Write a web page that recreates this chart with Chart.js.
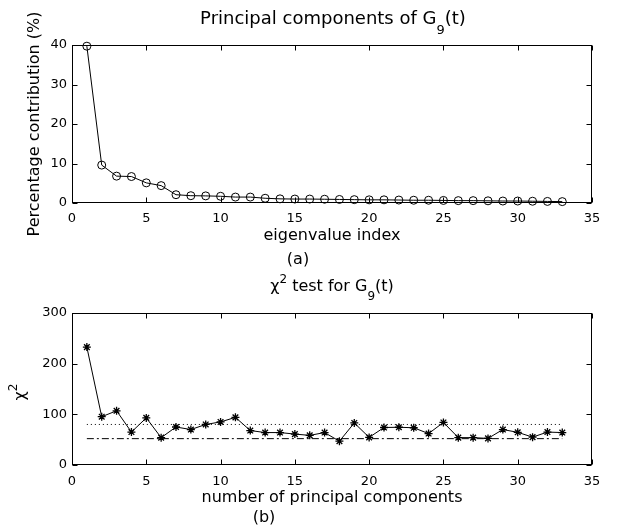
<!DOCTYPE html>
<html>
<head>
<meta charset="utf-8">
<script src="https://cdn.jsdelivr.net/npm/chart.js@4/dist/chart.umd.min.js"></script>
<style>
html,body{margin:0;padding:0;background:#fff;}
body{width:619px;height:531px;position:relative;overflow:hidden;font-family:"DejaVu Sans",sans-serif;color:#000;}
.wrap{position:absolute;left:0;width:619px;}
.t{position:absolute;white-space:nowrap;line-height:1;transform:translateX(-50%);}
.rot{position:absolute;white-space:nowrap;line-height:1;transform:translate(-50%,-50%) rotate(-90deg);}
.sub{position:relative;font-size:13px;top:10px;}
.sub2{position:relative;font-size:12px;top:9px;}
.sup{position:relative;font-size:12px;top:-8px;}
</style>
</head>
<body>
<div class="wrap" style="top:0;height:270px;"><canvas id="c1" width="619" height="270"></canvas></div>
<div class="wrap" style="top:270px;height:261px;"><canvas id="c2" width="619" height="261"></canvas></div>

<div class="t" style="left:333px;top:9px;font-size:18px;">Principal components of G<span class="sub">9</span>(t)</div>
<div class="rot" style="left:33.5px;top:124px;font-size:16px;">Percentage contribution (%)</div>
<div class="t" style="left:332px;top:226.5px;font-size:16px;">eigenvalue index</div>
<div class="t" style="left:298px;top:250.5px;font-size:16px;">(a)</div>

<div class="t" style="left:332px;top:277.5px;font-size:16px;">&#967;<span class="sup">2</span> test for G<span class="sub2">9</span>(t)</div>
<div class="rot" style="left:19.5px;top:392px;font-size:16px;">&#967;<span class="sup">2</span></div>
<div class="t" style="left:332px;top:488.5px;font-size:16px;">number of principal components</div>
<div class="t" style="left:264px;top:508.5px;font-size:16px;">(b)</div>

<script>
// ---- data ----
const eigenIndex = [1,2,3,4,5,6,7,8,9,10,11,12,13,14,15,16,17,18,19,20,21,22,23,24,25,26,27,28,29,30,31,32,33];
const pctContribution = [39.7,9.6,6.8,6.7,5.1,4.4,2.1,1.85,1.8,1.7,1.5,1.5,1.2,1.05,1.0,1.0,0.95,0.9,0.85,0.8,0.8,0.75,0.7,0.7,0.65,0.6,0.6,0.55,0.5,0.5,0.45,0.4,0.35];

const componentCount = [1,2,3,4,5,6,7,8,9,10,11,12,13,14,15,16,17,18,19,20,21,22,23,24,25,26,27,28,29,30,31,32,33];
const chiSquare = [232.7,95.3,107,65,93,54,75,70,80,85,94,68,64,64,61,58.5,64,47,83,54.5,74,74.5,73.5,62,84,54,54,52.5,70,64.5,55,65,64];

const thresholdRange = [1, 33];
const thresholdDotted = [80, 80];
const thresholdDashDot = [52, 52];

const xTicks = [0,5,10,15,20,25,30,35];
const yTicksTop = [0,10,20,30,40];
const yTicksBottom = [0,100,200,300];

// ---- helpers ----
const FONT = {family:'"DejaVu Sans", sans-serif', size:13};
const pts = (xs, ys) => xs.map((x,i)=>({x, y: ys[i]}));

const frame = {
  id:'frame',
  afterDatasetsDraw(chart){
    const {ctx, chartArea:a, scales:{x,y}} = chart;
    ctx.save();
    ctx.strokeStyle='#000'; ctx.lineWidth=1;
    const L=Math.round(a.left)+0.5, R=Math.round(a.right)-0.5, T=Math.round(a.top)+0.5, B=Math.round(a.bottom)-0.5;
    ctx.strokeRect(L,T,R-L,B-T);
    ctx.beginPath();
    x.ticks.forEach(t=>{const p=Math.round(x.getPixelForValue(t.value))+0.5; ctx.moveTo(p,B); ctx.lineTo(p,B-5); ctx.moveTo(p,T); ctx.lineTo(p,T+5);});
    y.ticks.forEach(t=>{const p=Math.round(y.getPixelForValue(t.value))+0.5; ctx.moveTo(L,p); ctx.lineTo(L+5,p); ctx.moveTo(R,p); ctx.lineTo(R-5,p);});
    ctx.stroke();
    ctx.restore();
  }
};

function makeScales(yMin, yMax, yTicks, xPad){
  return {
    x:{type:'linear', min:0, max:35,
       afterBuildTicks:s=>{s.ticks = xTicks.map(v=>({value:v}));},
       afterFit:s=>{s.height=25;},
       ticks:{font:FONT,color:'#000',padding:xPad,maxRotation:0,autoSkip:false},
       grid:{display:false,drawTicks:false}, border:{display:false}},
    y:{type:'linear', min:yMin, max:yMax,
       afterBuildTicks:s=>{s.ticks = yTicks.map(v=>({value:v}));},
       afterFit:s=>{s.width=72;},
       ticks:{font:FONT,color:'#000',padding:5},
       grid:{display:false,drawTicks:false}, border:{display:false}}
  };
}

const common = {
  responsive:false, animation:false, events:[],
  plugins:{legend:{display:false}, tooltip:{enabled:false}, title:{display:false}}
};

new Chart(document.getElementById('c1'), {
  type:'line',
  data:{datasets:[{
    data: pts(eigenIndex, pctContribution),
    borderColor:'#000', borderWidth:1, tension:0, clip:false,
    pointStyle:'circle', pointRadius:4, pointBorderWidth:1,
    pointBorderColor:'#000', pointBackgroundColor:'rgba(0,0,0,0)'
  }]},
  options:Object.assign({}, common, {
    layout:{padding:{left:0,right:27,top:45,bottom:42}},
    scales:makeScales(0,40,yTicksTop,8)
  }),
  plugins:[frame]
});

new Chart(document.getElementById('c2'), {
  type:'line',
  data:{datasets:[
    {data: pts(thresholdRange, thresholdDotted), borderColor:'#000', borderWidth:1, borderDash:[1,3], pointRadius:0, tension:0},
    {data: pts(thresholdRange, thresholdDashDot), borderColor:'#000', borderWidth:1, borderDash:[7,3,2,3], pointRadius:0, tension:0},
    {data: pts(componentCount, chiSquare),
     borderColor:'#000', borderWidth:1, tension:0, clip:false,
     pointStyle:'star', pointRadius:4, pointBorderWidth:1.3,
     pointBorderColor:'#000', pointBackgroundColor:'#000'}
  ]},
  options:Object.assign({}, common, {
    layout:{padding:{left:0,right:27,top:43,bottom:41}},
    scales:makeScales(0,300,yTicksBottom,9)
  }),
  plugins:[frame]
});
</script>
</body>
</html>
